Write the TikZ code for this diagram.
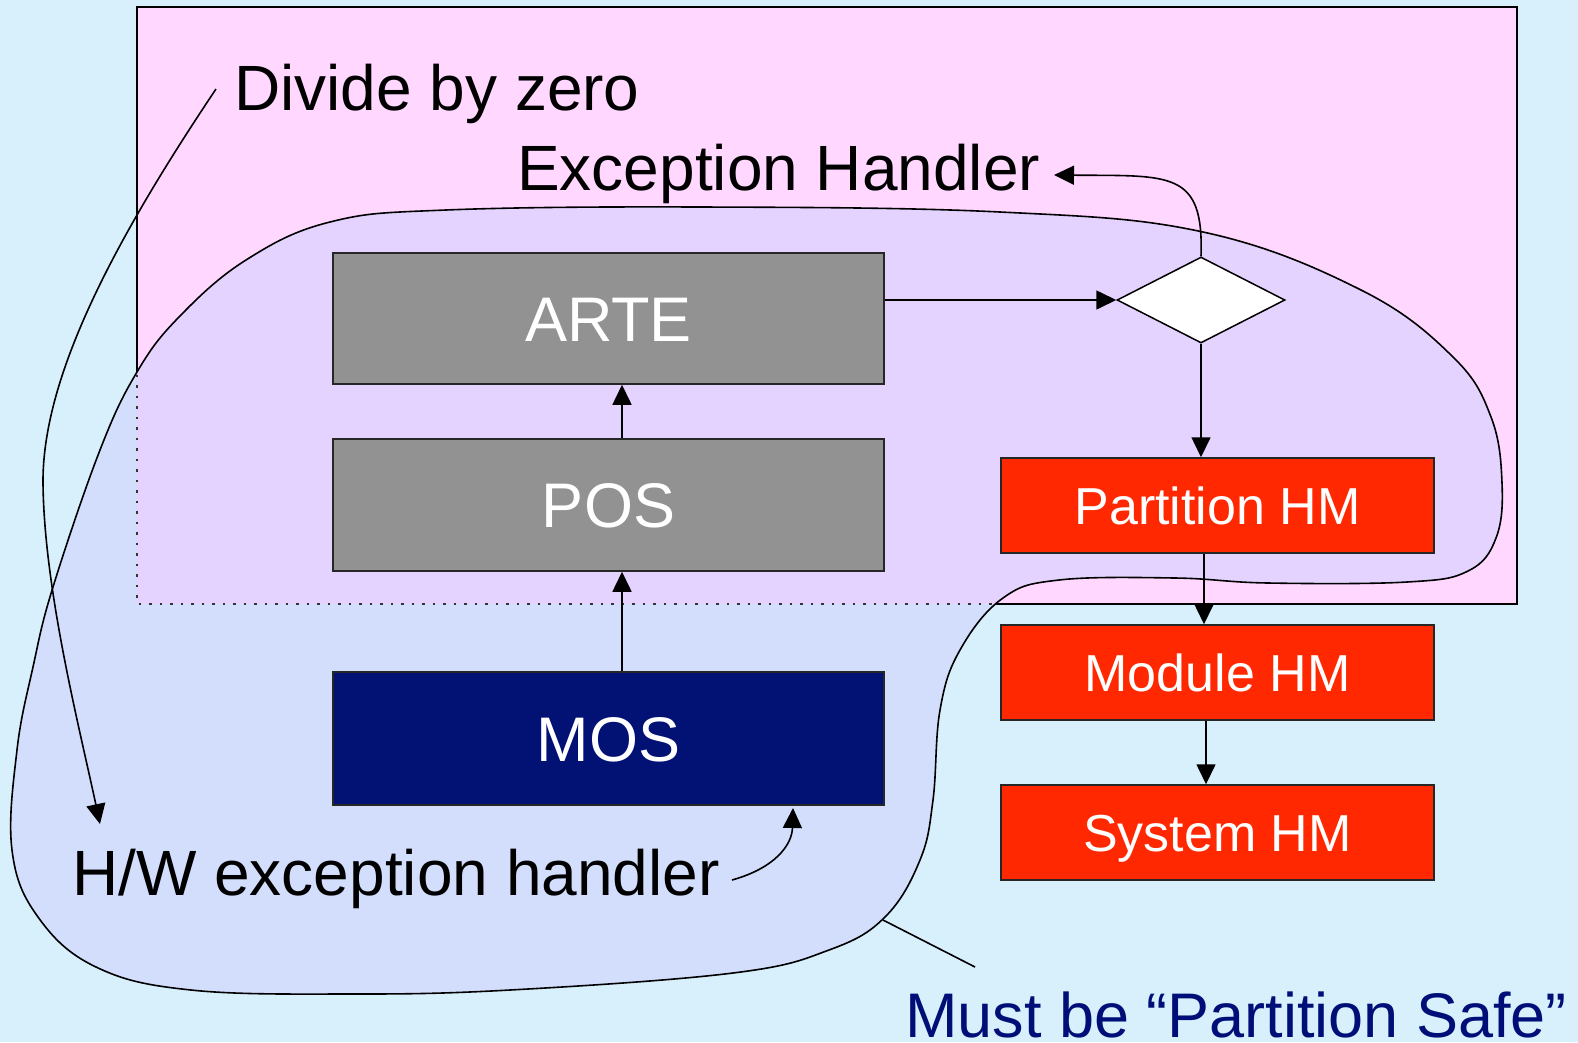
\documentclass[tikz,border=0pt]{standalone}
\usepackage{fontspec}
\setmainfont{Liberation Sans}
\usetikzlibrary{shapes.geometric,arrows.meta}
\definecolor{bgblue}{RGB}{216,240,252}
\definecolor{pinkbg}{RGB}{255,215,255}
\definecolor{lav}{RGB}{208,208,255}
\definecolor{boxgray}{RGB}{146,146,146}
\definecolor{navybox}{RGB}{2,17,116}
\definecolor{redbox}{RGB}{255,40,0}
\definecolor{navytext}{RGB}{0,15,120}
\begin{document}
\begin{tikzpicture}[x=1pt,y=-1pt,
  blobpath/.style={insert path={plot[smooth cycle, tension=0.65] coordinates {
    (179,317) (246,260) (330,222) (446,210) (700,207) (1000,212) (1203,232)
    (1361,290) (1453,357) (1491,417) (1502,483) (1496,538) (1468,571)
    (1407,582) (1268,583) (1175,578) (1059,580) (1003,598) (960,650)
    (940,710) (933,800) (920,860) (885,917) (829,950) (733,973) (510,990)
    (351,994) (191,990) (96,967) (38,917) (12,850) (17,750) (33,667)
    (53,587) (100,450) (137,372)}}},
  layer/.style={draw=black!85, line width=1.5pt, inner sep=0pt, text=white,
    minimum width=551pt, font=\fontsize{63}{70}\selectfont,
    text height=45pt, text depth=0pt},
  hmbox/.style={draw=black!85, line width=1.5pt, inner sep=0pt, text=white,
    fill=redbox, minimum width=433pt, minimum height=95pt,
    font=\fontsize{52}{60}\selectfont, text height=37pt, text depth=0pt},
  label/.style={inner sep=0pt, anchor=base west, font=\fontsize{64}{72}\selectfont},
  arr/.style={-{Triangle[length=20pt,width=19pt]}, line width=1.6pt},
  thin/.style={line width=1.6pt}
]
\useasboundingbox (0,0) rectangle (1578,1042);
\fill[bgblue] (0,0) rectangle (1578,1042);
% partition frame
\fill[pinkbg] (137,7) rectangle (1517,604);
\begin{scope}[even odd rule]
  \clip[blobpath] (-20,-20) rectangle (1600,1060);
  \draw[line width=1.5pt] (137,7) rectangle (1517,604);
\end{scope}
\fill[lav, opacity=0.55, blobpath];
\begin{scope}
  \clip[blobpath];
  \draw[line width=1.5pt, black!80, dash pattern=on 2.5pt off 8pt] (137,7) rectangle (1517,604);
\end{scope}
\draw[line width=1.6pt, blobpath];

% boxes
\node[layer, fill=boxgray, minimum height=131pt] (ARTE) at (608.5,318.5) {ARTE};
\node[layer, fill=boxgray, minimum height=132pt] (POS) at (608.5,505) {POS};
\node[layer, fill=navybox, minimum height=133pt] (MOS) at (608.5,738.5) {MOS};
\node[draw=black, line width=1.5pt, fill=white, shape=diamond, inner sep=0pt,
  minimum width=168pt, minimum height=86pt] (D) at (1201,300) {};
\node[hmbox] (PHM) at (1217.5,505.5) {Partition HM};
\node[hmbox] (MHM) at (1217.5,672.5) {Module HM};
\node[hmbox] (SHM) at (1217.5,832.5) {System HM};

% labels
\node[label] (DBZ) at (234,110) {Divide by zero};
\node[label] (EH) at (517,190) {Exception Handler};
\node[label] (HW) at (72,895) {H/W exception handler};
\node[label, text=navytext, text depth=0pt, font=\fontsize{63}{70}\selectfont] (MPS) at (905,1037) {Must be “Partition Safe”};

% free ends
\coordinate (dbzStart) at (216,89);
\coordinate (hwTip) at (100,824);
\coordinate (ehTip) at (1054,175);
\coordinate (hwStart) at (732,880);
\coordinate (mosTip) at (793,808);
\coordinate (blobPt) at (883,920);
\coordinate (mpsPt) at (975,967);

% connectors
\draw[arr] ([xshift=13.5pt]POS.north) -- ([xshift=13.5pt]ARTE.south);
\draw[arr] ([xshift=13.5pt]MOS.north) -- ([xshift=13.5pt]POS.south);
\draw[arr] (ARTE.east |- D.west) -- (D.west);
\draw[arr] (D.south) -- (D.south |- PHM.north);
\draw[arr] ([xshift=-13.5pt]PHM.south) -- ([xshift=-13.5pt]MHM.north);
\draw[arr] ([xshift=-11.5pt]MHM.south) -- ([xshift=-11.5pt]SHM.north);
\draw[arr] (D.north) .. controls (1204,170) and (1170,176) .. (ehTip);
\draw[arr] (hwStart) .. controls (775,868) and (792,845) .. (mosTip);
\draw[thin] (dbzStart) .. controls (125,225) and (42,370) .. (43,483);
\draw[arr] (43,483) .. controls (44,590) and (80,730) .. (hwTip);
\draw[thin] (blobPt) -- (mpsPt);
\end{tikzpicture}
\end{document}
